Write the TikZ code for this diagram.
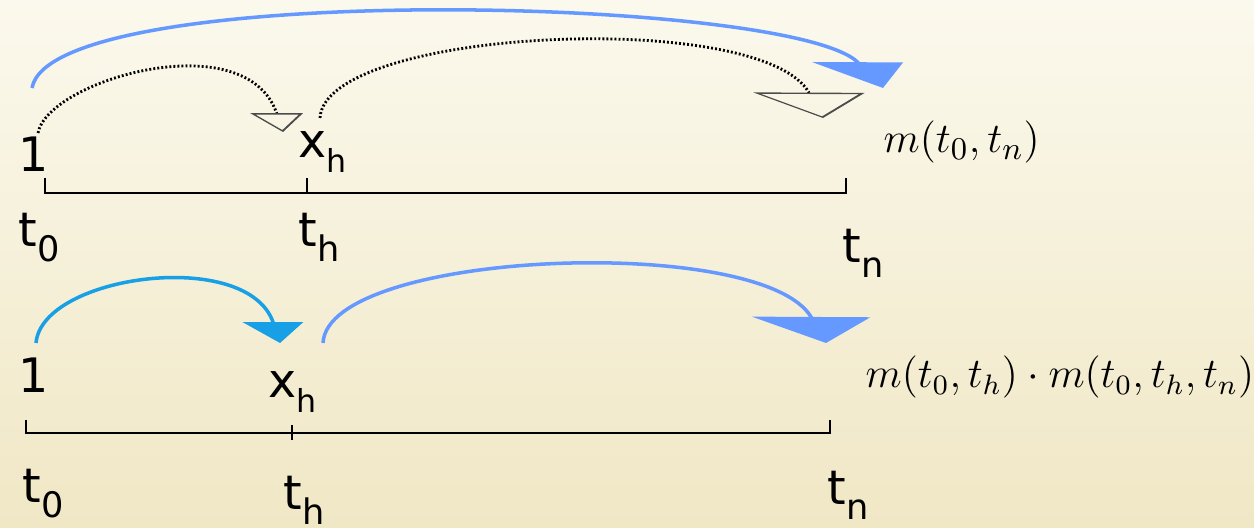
\documentclass[tikz,border=0pt]{standalone}
\usepackage{fontspec}
\setmainfont{DejaVu Sans}
\definecolor{BgTop}   {RGB}{251,249,237}
\definecolor{BgBottom}{RGB}{240,231,197}
\definecolor{ArcBlue} {RGB}{102,153,255}
\definecolor{ArcCyan} {RGB}{24,160,230}
\usetikzlibrary{arrows.meta,positioning}
\newcommand\lowsub[2][10]{\raisebox{-0.3em}{\fontsize{#1}{#1}\selectfont #2}}

\begin{document}
\begin{tikzpicture}[x=0.01cm,y=0.01cm,
  lbl/.style={font=\fontsize{13.5}{16}\selectfont,inner sep=0pt,anchor=base west},
  formula/.style={font=\fontsize{12.5}{15}\selectfont,inner sep=0pt,anchor=base west},
  axis/.style={line width=0.6pt,black},
  hop/.style={line width=1pt},
  ghost/.style={line width=0.8pt,dash pattern=on 0.55pt off 0.6pt}]
  \useasboundingbox (0,-528) rectangle (1254,0);
  \shade[top color=BgTop,bottom color=BgBottom] (0,-528) rectangle (1254,0);

  % upper row: one jump
  \node[lbl] (one1) at (18,-172) {1};
  \node[lbl] (xh1)  at (298,-158) {x\lowsub[9]{h}};
  \node[lbl] (tzero1) at (18,-247) {t\lowsub{0}};
  \node[lbl] (th1)  at (298,-247) {t\lowsub{h}};
  \node[lbl] (tn1)  at (842,-263) {t\lowsub{n}};
  \node[formula] (mform1) at (883,-153) {$m(t_0,t_n)$};
  \coordinate (A0) at (45,-193);
  \coordinate (Ah) at (307,-193);
  \coordinate (An) at (846,-193);
  \draw[axis] (A0) ++(0,15) -- (A0) -- (An) -- ++(0,15);
  \draw[axis] (Ah) -- ++(0,15);
  \coordinate (longFrom) at (32,-88);
  \coordinate (longTo)   at (883,-88);
  \coordinate (halfFrom) at (38,-133);
  \coordinate (halfTo)   at (283,-132);
  \coordinate (restFrom) at (320,-118);
  \coordinate (restTo)   at (823,-118);
  \draw[hop,ArcBlue,-{Triangle[width=0.64cm,length=0.36cm,slant=0.98]}]
       (longFrom) .. controls +(19,108) and +(-90,92) .. (longTo);
  \draw[ghost,-{Triangle[open,width=0.5cm,length=0.2cm,slant=0.34,
                         line width=0.45pt,color=black!70]}]
       (halfFrom) .. controls +(10,53) and +(-37,109) .. (halfTo);
  \draw[ghost,-{Triangle[open,width=0.97cm,length=0.29cm,slant=0.56,
                         line width=0.45pt,color=black!70]}]
       (restFrom) .. controls +(5,90) and +(-61,110) .. (restTo);

  % lower row: two jumps
  \node[lbl] (one2) at (18,-393) {1};
  \node[lbl] (xh2)  at (268,-398) {x\lowsub[9]{h}};
  \node[lbl] (tzero2) at (22,-503) {t\lowsub{0}};
  \node[lbl] (th2)  at (283,-510) {t\lowsub{h}};
  \node[lbl] (tn2)  at (827,-505) {t\lowsub{n}};
  \node[formula,font=\fontsize{12}{14}\selectfont] (mform2) at (865,-388)
       {$m(t_0,t_h)\cdot m(t_0,t_h,t_n)$};
  \coordinate (B0) at (26,-433);
  \coordinate (Bh) at (292,-433);
  \coordinate (Bn) at (830,-433);
  \draw[axis] (B0) ++(0,13) -- (B0) -- (Bn) -- ++(0,13);
  \draw[axis] (Bh) ++(0,8) -- ++(0,-15);
  \coordinate (firstFrom)  at (36,-343);
  \coordinate (firstTo)    at (280,-343);
  \coordinate (secondFrom) at (323,-343);
  \coordinate (secondTo)   at (826,-343);
  \draw[hop,ArcCyan,-{Triangle[width=0.57cm,length=0.22cm,slant=0.33]}]
       (firstFrom) .. controls +(6,68) and +(-32,96) .. (firstTo);
  \draw[hop,ArcBlue,-{Triangle[width=1.02cm,length=0.3cm,slant=0.58]}]
       (secondFrom) .. controls +(5,93) and +(-63,110) .. (secondTo);
\end{tikzpicture}
\end{document}
